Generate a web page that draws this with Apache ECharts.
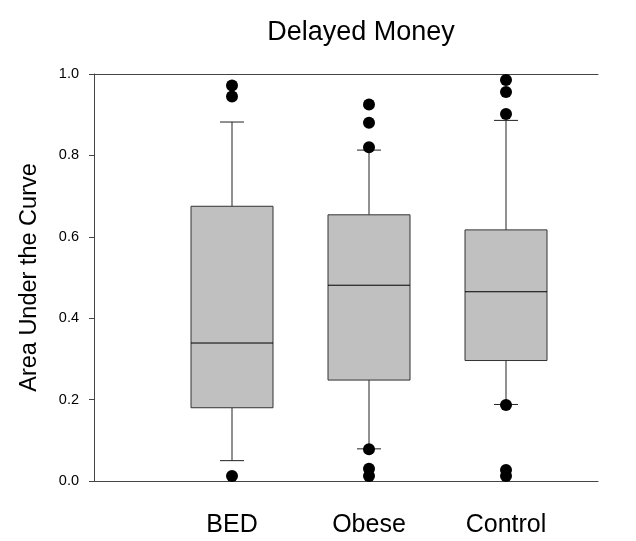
<!DOCTYPE html>
<html>
<head>
<meta charset="utf-8">
<script src="https://cdn.jsdelivr.net/npm/echarts@6/dist/echarts.min.js"></script>
<style>html,body{margin:0;padding:0;background:#fff}#c{width:636px;height:541px}</style>
</head>
<body>
<div id="c"></div>
<script>
const categories = ['BED', 'Obese', 'Control'];
const whiskerLow = [0.050, 0.079, 0.188];
const q1 = [0.180, 0.248, 0.296];
const median = [0.339, 0.481, 0.465];
const q3 = [0.675, 0.654, 0.617];
const whiskerHigh = [0.882, 0.813, 0.886];
const outlierCat = [0, 0, 0, 1, 1, 1, 1, 1, 1, 2, 2, 2, 2, 2, 2];
const outlierVal = [0.972, 0.945, 0.012, 0.925, 0.880, 0.820, 0.078, 0.030, 0.012, 0.985, 0.956, 0.902, 0.187, 0.027, 0.012];
const yTickLabels = ['0.0', '0.2', '0.4', '0.6', '0.8', '1.0'];

const FONT = '"Liberation Sans", Arial, Helvetica, sans-serif';
const boxData = categories.map((c, i) => [i, whiskerLow[i], q1[i], median[i], q3[i], whiskerHigh[i]]);
const outlierData = outlierCat.map((c, i) => [c, outlierVal[i]]);

const chart = echarts.init(document.getElementById('c'), null, {renderer: 'canvas'});
chart.setOption({
  animation: false,
  backgroundColor: '#fff',
  graphic: [{
    type: 'text', x: 361, y: 33,
    style: {text: 'Delayed Money', font: '27px ' + FONT, fill: '#000', align: 'center', verticalAlign: 'middle'}
  }],
  grid: [
    {left: 94, top: 74, width: 504, height: 407},
    {left: 163.5, top: 74, width: 411, height: 407}
  ],
  xAxis: [
    {gridIndex: 0, type: 'value', min: 0, max: 1, position: 'bottom',
     axisLine: {show: true, lineStyle: {color: '#444', width: 1}}, axisTick: {show: false},
     axisLabel: {show: false}, splitLine: {show: false}},
    {gridIndex: 0, type: 'value', min: 0, max: 1, position: 'top',
     axisLine: {show: true, lineStyle: {color: '#444', width: 1}}, axisTick: {show: false},
     axisLabel: {show: false}, splitLine: {show: false}},
    {gridIndex: 1, type: 'category', data: categories, boundaryGap: true,
     axisLine: {show: false}, axisTick: {show: false}, splitLine: {show: false},
     axisLabel: {show: true, margin: 32, fontSize: 25, fontFamily: FONT, color: '#000'}}
  ],
  yAxis: [
    {gridIndex: 0, type: 'value', min: 0, max: 1, interval: 0.2,
     name: 'Area Under the Curve', nameLocation: 'middle', nameGap: 52, nameRotate: 90,
     nameTextStyle: {fontSize: 23.5, fontFamily: FONT, color: '#000'},
     axisLine: {show: true, lineStyle: {color: '#444', width: 1}},
     axisTick: {show: true, inside: false, length: 5, lineStyle: {color: '#444'}},
     axisLabel: {show: true, margin: 15, fontSize: 14.5, fontFamily: FONT, color: '#000',
       formatter: v => yTickLabels[Math.round(v / 0.2)]},
     splitLine: {show: false}},
    {gridIndex: 1, type: 'value', min: 0, max: 1, show: false}
  ],
  series: [
    {
      type: 'custom', xAxisIndex: 2, yAxisIndex: 1, data: boxData,
      encode: {x: 0, y: [1, 2, 3, 4, 5]},
      renderItem: function (params, api) {
        const i = api.value(0);
        const cx = api.coord([i, 0])[0];
        const yLo = api.coord([i, api.value(1)])[1];
        const yQ1 = api.coord([i, api.value(2)])[1];
        const yMed = api.coord([i, api.value(3)])[1];
        const yQ3 = api.coord([i, api.value(4)])[1];
        const yHi = api.coord([i, api.value(5)])[1];
        const bw = 82, cw = 24;
        const wStyle = {stroke: '#222', lineWidth: 1};
        return {type: 'group', children: [
          {type: 'line', shape: {x1: cx, y1: yQ1, x2: cx, y2: yLo}, style: wStyle},
          {type: 'line', shape: {x1: cx, y1: yQ3, x2: cx, y2: yHi}, style: wStyle},
          {type: 'line', shape: {x1: cx - cw / 2, y1: yLo, x2: cx + cw / 2, y2: yLo}, style: wStyle},
          {type: 'line', shape: {x1: cx - cw / 2, y1: yHi, x2: cx + cw / 2, y2: yHi}, style: wStyle},
          {type: 'rect', shape: {x: cx - bw / 2, y: yQ3, width: bw, height: yQ1 - yQ3},
           style: {fill: '#c0c0c0', stroke: '#333', lineWidth: 1}},
          {type: 'line', shape: {x1: cx - bw / 2, y1: yMed, x2: cx + bw / 2, y2: yMed},
           style: {stroke: '#000', lineWidth: 1}}
        ]};
      }
    },
    {
      type: 'scatter', xAxisIndex: 2, yAxisIndex: 1, data: outlierData,
      symbol: 'circle', symbolSize: 12, itemStyle: {color: '#000', opacity: 1}, z: 5
    }
  ]
});
</script>
</body>
</html>
